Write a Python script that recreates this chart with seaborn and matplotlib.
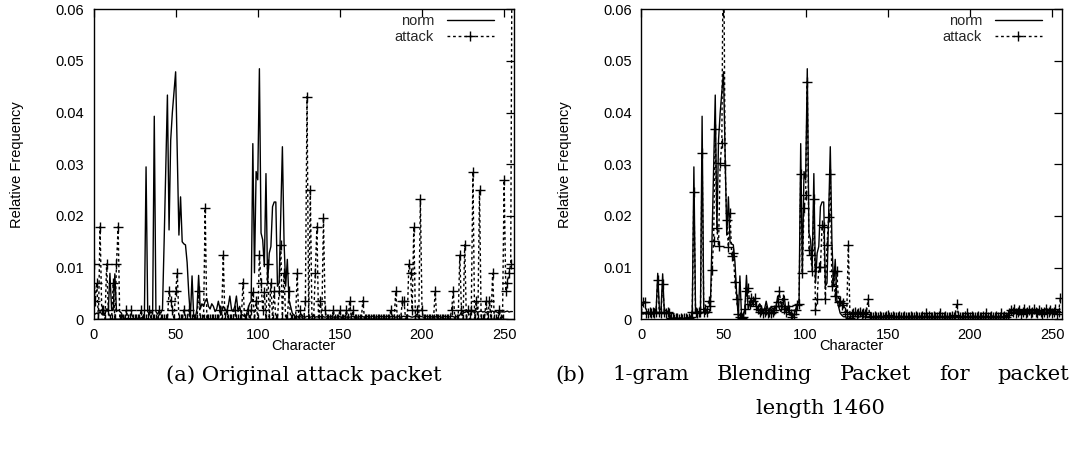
import numpy as np
import pandas as pd
import matplotlib
matplotlib.use("Agg")
import matplotlib.pyplot as plt
import seaborn as sns

# ---------------- data (values in units of 0.001 relative frequency) ----------------
characters = list(range(256))

norm_x1000 = [
    1.5, 1.0, 1.2, 1.0, 1.5, 1.0, 1.2, 1.0, 2.0, 1.5, 8.9, 2.0, 1.8, 8.8, 1.5, 1.8,
    1.5, 1.2, 0.3, 0.1, 0.1, 0.2, 0.1, 0.1, 0.2, 0.1, 0.1, 0.2, 0.1, 0.2, 0.5, 1.0,
    29.5, 1.5, 1.0, 1.5, 1.0, 39.3, 1.5, 1.0, 1.5, 1.2, 2.0, 15.0, 29.0, 43.4, 17.3, 34.7,
    40.0, 44.0, 47.9, 32.0, 16.3, 23.7, 15.0, 14.6, 14.4, 11.0, 5.0, 0.5, 8.4, 0.5, 0.3, 2.0,
    8.5, 2.0, 3.0, 2.5, 3.5, 4.0, 2.5, 2.0, 3.0, 2.5, 1.5, 2.0, 3.5, 2.0, 1.5, 2.5,
    2.0, 1.5, 2.5, 4.5, 2.0, 1.5, 2.5, 4.5, 1.5, 2.5, 1.0, 0.8, 0.5, 0.8, 2.0, 3.0,
    3.5, 34.0, 9.0, 28.6, 27.0, 48.5, 16.7, 15.4, 10.2, 28.2, 7.0, 12.8, 14.1, 21.8, 22.7, 22.7,
    6.4, 7.0, 20.0, 33.4, 15.0, 6.4, 11.6, 3.7, 2.5, 1.2, 0.8, 0.5, 0.5, 0.4, 0.5, 0.4,
    0.5, 0.4, 0.6, 0.5, 0.4, 0.5, 0.6, 0.4, 0.5, 0.4, 0.5, 0.6, 0.5, 0.4, 0.5, 0.4,
    0.5, 0.6, 0.4, 0.5, 0.4, 0.6, 0.5, 0.4, 0.5, 0.6, 0.4, 0.5, 0.4, 0.5, 0.6, 0.4,
    0.5, 0.4, 0.5, 0.6, 0.5, 0.4, 0.6, 0.5, 0.4, 0.5, 0.6, 0.5, 0.4, 0.5, 0.4, 0.6,
    0.5, 0.4, 0.5, 0.6, 0.4, 0.5, 0.6, 0.5, 0.4, 0.5, 0.6, 0.4, 0.5, 0.6, 0.5, 0.7,
    0.6, 0.5, 0.4, 0.5, 0.6, 0.5, 0.4, 0.6, 0.5, 0.4, 0.5, 0.6, 0.5, 0.4, 0.5, 0.6,
    0.5, 0.4, 0.6, 0.5, 0.4, 0.5, 0.6, 0.5, 0.4, 0.5, 0.6, 0.5, 0.4, 0.5, 0.6, 0.8,
    1.4, 1.5, 1.3, 1.5, 1.4, 1.6, 1.4, 1.5, 1.3, 1.5, 1.4, 1.5, 1.6, 1.4, 1.5, 1.3,
    1.5, 1.4, 1.5, 1.6, 1.4, 1.5, 1.3, 1.5, 1.4, 1.5, 1.4, 1.5, 1.6, 1.4, 1.5, 1.5,
]

attack_orig_x1000 = [
    10.7, 3.6, 7.1, 0, 17.9, 1.8, 1.8, 0, 10.7, 1.8, 0, 0, 7.1, 0, 10.7, 17.9,
    0, 0, 0, 0, 1.8, 0, 0, 1.8, 0, 0, 0, 0, 0, 1.8, 0, 0,
    0, 0, 1.8, 0, 0, 0, 0, 0, 1.8, 0, 0, 0, 0, 0, 5.4, 3.6,
    1.8, 0, 5.4, 8.9, 0, 0, 0, 1.8, 0, 0, 1.8, 0, 0, 0, 0, 0,
    5.4, 0, 0, 0, 21.5, 0, 0, 0, 0, 0, 0, 0, 0, 1.8, 0, 12.4,
    0, 1.8, 0, 0, 0, 0, 1.8, 0, 0, 0, 0, 7.1, 0, 0, 1.8, 0,
    1.8, 5.3, 0, 3.6, 0, 12.4, 7.1, 1.8, 5.3, 0, 10.7, 0, 7.1, 0, 5.4, 0,
    0, 5.4, 14.4, 0, 8.9, 0, 0, 5.4, 0, 0, 0, 0, 8.9, 0, 1.8, 0,
    0, 3.6, 43.1, 0, 25.1, 0, 0, 8.9, 17.9, 0, 3.6, 0, 19.7, 1.8, 0, 0,
    0, 0, 1.8, 0, 0, 0, 1.8, 0, 0, 0, 1.8, 0, 3.6, 0, 1.8, 0,
    0, 0, 0, 0, 3.6, 0, 0, 0, 0, 0, 0, 0, 0, 0, 0, 0,
    0, 0, 0, 0, 0, 1.8, 0, 0, 5.4, 0, 0, 0, 3.6, 3.6, 0, 0,
    10.7, 8.9, 1.8, 17.9, 0, 1.8, 0, 23.2, 1.8, 0, 0, 0, 0, 0, 0, 0,
    5.4, 0, 0, 0, 0, 0, 0, 0, 0, 0, 1.8, 5.4, 0, 0, 0, 12.4,
    1.8, 0, 14.4, 0, 1.8, 0, 1.8, 28.6, 0, 3.6, 0, 25.1, 0, 0, 0, 3.6,
    0, 3.6, 0, 8.9, 0, 0, 0, 1.8, 0, 0, 26.9, 5.4, 7.1, 8.9, 10.7, 90.0,
]

attack_blend_x1000 = [
    1.5, 3.4, 3.4, 1.2, 1.2, 1.5, 1.2, 1.5, 1.2, 1.5, 7.6, 1.5, 1.2, 6.8, 1.5, 1.2,
    1.5, 1.2, 0.3, 0.2, 0.1, 0.2, 0.2, 0.1, 0.2, 0.1, 0.2, 0.2, 0.1, 0.2, 0.5, 1.5,
    24.7, 1.5, 1.2, 1.5, 1.5, 32.1, 1.5, 2.0, 1.5, 3.5, 2.5, 9.5, 15.2, 36.9, 17.6, 14.2,
    30.2, 34.2, 80.0, 29.8, 19.2, 14.0, 20.6, 12.3, 12.8, 7.2, 3.9, 1.0, 0.5, 0.3, 0.5, 2.0,
    5.5, 6.1, 3.0, 4.1, 3.5, 4.1, 2.5, 2.0, 1.5, 1.8, 1.2, 1.5, 1.8, 1.2, 1.5, 1.2,
    1.5, 1.8, 2.5, 3.4, 5.5, 2.5, 4.0, 2.0, 1.5, 2.5, 1.8, 1.0, 0.5, 1.0, 1.8, 2.8,
    3.0, 28.1, 8.9, 21.5, 24.0, 46.0, 13.4, 12.4, 9.3, 23.2, 1.8, 3.9, 10.1, 10.1, 18.2, 17.8,
    3.9, 14.4, 19.8, 28.1, 6.4, 9.3, 4.6, 9.3, 3.4, 3.5, 2.8, 3.2, 1.5, 1.0, 14.4, 0.3,
    1.0, 1.2, 1.5, 1.0, 1.2, 1.5, 1.0, 1.2, 1.0, 1.5, 3.9, 0.5, 0.5, 0.4, 0.6, 0.5,
    0.4, 0.6, 0.5, 0.4, 0.5, 0.6, 0.9, 0.5, 0.4, 0.6, 0.5, 0.4, 0.5, 0.6, 0.4, 0.5,
    0.6, 0.5, 0.4, 0.5, 0.6, 0.4, 0.5, 0.6, 0.5, 0.4, 0.5, 0.6, 0.4, 1.2, 0.5, 0.6,
    0.4, 0.5, 0.6, 0.5, 0.4, 0.6, 1.2, 0.5, 0.4, 0.6, 0.5, 0.4, 0.5, 0.6, 0.5, 0.8,
    3.0, 0.6, 0.5, 0.4, 0.5, 0.6, 1.2, 0.5, 0.4, 0.6, 0.5, 0.4, 0.5, 0.6, 0.4, 0.5,
    0.6, 0.5, 1.2, 0.4, 0.5, 0.6, 0.5, 0.4, 0.6, 0.5, 0.4, 1.2, 0.5, 0.6, 0.5, 0.8,
    1.2, 1.8, 1.5, 2.0, 1.2, 1.5, 1.8, 1.0, 1.5, 2.0, 1.2, 1.5, 1.8, 1.2, 1.5, 2.0,
    1.5, 1.2, 1.8, 1.5, 1.0, 1.5, 2.0, 1.2, 1.5, 1.8, 1.2, 1.5, 2.0, 1.0, 1.5, 4.1,
]

x_ticks = [0, 50, 100, 150, 200, 250]
x_tick_labels = ["0", "50", "100", "150", "200", "250"]
y_ticks = [0, 0.01, 0.02, 0.03, 0.04, 0.05, 0.06]
y_tick_labels = ["0", "0.01", "0.02", "0.03", "0.04", "0.05", "0.06"]
series_labels = ["norm", "attack"]
x_label = "Character"
y_label = "Relative Frequency"
caption_a = "(a) Original attack packet"
caption_b_line1 = "(b) 1-gram Blending Packet for packet"
caption_b_line2 = "length 1460"

# ---------------- style ----------------
sns.set_theme(style="white")
plt.rcParams['font.family'] = ['Liberation Sans', 'DejaVu Sans']

W, H = 1072, 455
fig = plt.figure(figsize=(W / 100, H / 100), dpi=100)

def px_axes(l, r, t, b):
    return [l / W, 1 - b / H, (r - l) / W, (b - t) / H]

ax_a = fig.add_axes(px_axes(93.5, 514, 9.3, 319.3))
ax_b = fig.add_axes(px_axes(641.3, 1062, 9.3, 319.3))

FS = 10.5

def draw(ax, attack_vals):
    df = pd.DataFrame({
        "Character": characters,
        "norm": np.array(norm_x1000) / 1000.0,
        "attack": np.array(attack_vals) / 1000.0,
    })
    sns.lineplot(data=df, x="Character", y="norm", ax=ax, color="black",
                 lw=1.0, label=series_labels[0])
    sns.lineplot(data=df, x="Character", y="attack", ax=ax, color="black",
                 lw=1.0, linestyle=(0, (2, 2)), marker="+", markersize=7,
                 markeredgecolor="black", markeredgewidth=1.0,
                 label=series_labels[1])
    ax.set_xlim(0, 256)
    ax.set_ylim(0, 0.06)
    ax.set_xticks(x_ticks)
    ax.set_xticklabels(x_tick_labels)
    ax.set_yticks(y_ticks)
    ax.set_yticklabels(y_tick_labels)
    ax.tick_params(direction="in", length=6, width=0.9, top=True, right=True,
                   labelsize=FS, colors="black")
    ax.tick_params(axis="y", pad=7)
    ax.tick_params(axis="x", pad=6)
    for s in ax.spines.values():
        s.set_visible(True)
        s.set_color("black")
        s.set_linewidth(1.0)
    ax.set_xlabel(x_label, fontsize=FS, color="black")
    ax.set_ylabel(y_label, fontsize=FS, color="black")
    ax.xaxis.set_label_coords(0.5, -0.063)
    ax.yaxis.set_label_coords(-0.165, 0.5)
    ax.legend(loc="upper right", bbox_to_anchor=(0.952, 0.985), frameon=False,
              markerfirst=False, handlelength=3.2, handletextpad=0.9,
              labelspacing=0.15, borderaxespad=0, borderpad=0, fontsize=FS,
              numpoints=1)

draw(ax_a, attack_orig_x1000)
draw(ax_b, attack_blend_x1000)

# ---------------- captions (LaTeX-like subcaptions) ----------------
cap_font = dict(family="DejaVu Serif", fontsize=15.2, color="black")
fig.text(303.75 / W, 1 - 375 / H, caption_a, ha="center", va="center", **cap_font)

# first line of (b) is justified across the available width
words = caption_b_line1.split(" ")
word_texts = [fig.text(0, 1 - 375 / H, w, ha="left", va="center", **cap_font) for w in words]
fig.canvas.draw()
renderer = fig.canvas.get_renderer()
widths = [t.get_window_extent(renderer=renderer).width for t in word_texts]
line_left, line_right = 555.0, 1069.0
gap = (line_right - line_left - sum(widths)) / (len(words) - 1)
x = line_left
for t, w in zip(word_texts, widths):
    t.set_x(x / W)
    x += w + gap
fig.text(820 / W, 1 - 408 / H, caption_b_line2, ha="center", va="center", **cap_font)

fig.savefig("out.png", dpi=100)
